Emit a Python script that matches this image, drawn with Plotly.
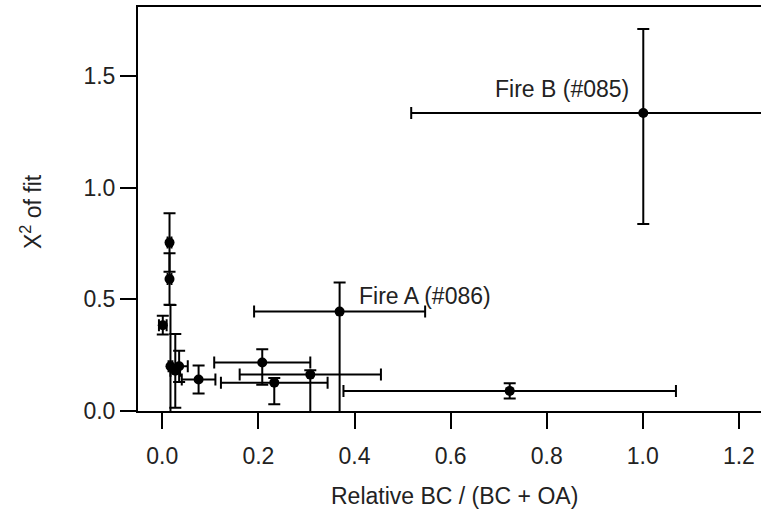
import plotly.graph_objects as go

# Relative BC / (BC + OA) and chi^2 of fit, with error bars
bc_frac = [0.001, 0.015, 0.015, 0.017, 0.027, 0.035, 0.0755, 0.208, 0.233, 0.308, 0.369, 0.723, 1.001]
chi2 = [0.384, 0.754, 0.591, 0.20, 0.18, 0.20, 0.141, 0.217, 0.127, 0.163, 0.445, 0.090, 1.334]
x_err = [0.008, 0.004, 0.004, 0.004, 0.01, 0.018, 0.035, 0.10, 0.111, 0.147, 0.178, 0.346, 0.483]
y_err_plus = [0.042, 0.131, 0.115, 0.275, 0.165, 0.07, 0.063, 0.06, 0.021, 0.02, 0.13, 0.034, 0.376]
y_err_minus = [0.042, 0.131, 0.115, 0.275, 0.165, 0.07, 0.063, 0.10, 0.097, 0.20, 0.50, 0.034, 0.497]

label_text = ["Fire B (#085)", "Fire A (#086)"]
label_x = [0.975, 0.406]
label_y = [1.444, 0.514]
label_anchor = ["right", "left"]

x_ticks = [0.0, 0.2, 0.4, 0.6, 0.8, 1.0, 1.2]
y_ticks = [0.0, 0.5, 1.0, 1.5]

FONT = "Liberation Sans, Arial, sans-serif"
TXT = "#222222"
FS = 23

fig = go.Figure()
fig.add_trace(go.Scatter(
    x=bc_frac, y=chi2, mode="markers",
    marker=dict(color="black", size=10, symbol="circle"),
    error_x=dict(type="data", array=x_err, symmetric=True, color="black", thickness=2, width=6),
    error_y=dict(type="data", array=y_err_plus, arrayminus=y_err_minus, symmetric=False,
                 color="black", thickness=2, width=6),
    showlegend=False,
))

for t, xv, yv, anc in zip(label_text, label_x, label_y, label_anchor):
    fig.add_annotation(x=xv, y=yv, xref="x", yref="y", text=t, showarrow=False,
                       xanchor=anc, yanchor="middle",
                       font=dict(family=FONT, size=FS, color=TXT))

fig.add_annotation(x=0.5, y=0, xref="paper", yref="paper", xshift=5, yshift=-85,
                   text="Relative BC / (BC + OA)", showarrow=False,
                   xanchor="center", yanchor="middle",
                   font=dict(family=FONT, size=FS, color=TXT))
fig.add_annotation(x=0, y=0.5, xref="paper", yref="paper", xshift=-107, yshift=-3,
                   text="X<sup>2</sup> of fit", showarrow=False, textangle=-90,
                   xanchor="center", yanchor="middle",
                   font=dict(family=FONT, size=FS, color=TXT))

fig.update_xaxes(range=[-0.0506, 1.246], tickvals=x_ticks, tickformat=".1f",
                 showline=True, linecolor="black", linewidth=2, mirror=True,
                 ticks="outside", ticklen=16, tickwidth=2, tickcolor="black",
                 ticklabelstandoff=7,
                 showgrid=False, zeroline=False,
                 tickfont=dict(family=FONT, size=FS, color=TXT))
fig.update_yaxes(range=[0, 1.809], tickvals=y_ticks, tickformat=".1f",
                 showline=True, linecolor="black", linewidth=2, mirror=False,
                 ticks="outside", ticklen=16, tickwidth=2, tickcolor="black",
                 showgrid=False, zeroline=False,
                 tickfont=dict(family=FONT, size=FS, color=TXT))

fig.update_layout(
    width=761, height=510,
    margin=dict(l=138, r=0, t=7, b=99),
    paper_bgcolor="white", plot_bgcolor="white",
    font=dict(family=FONT, size=FS, color=TXT),
)

fig.write_html("out.html", config={"displayModeBar": False},
               post_script="document.body.style.margin='0';")
